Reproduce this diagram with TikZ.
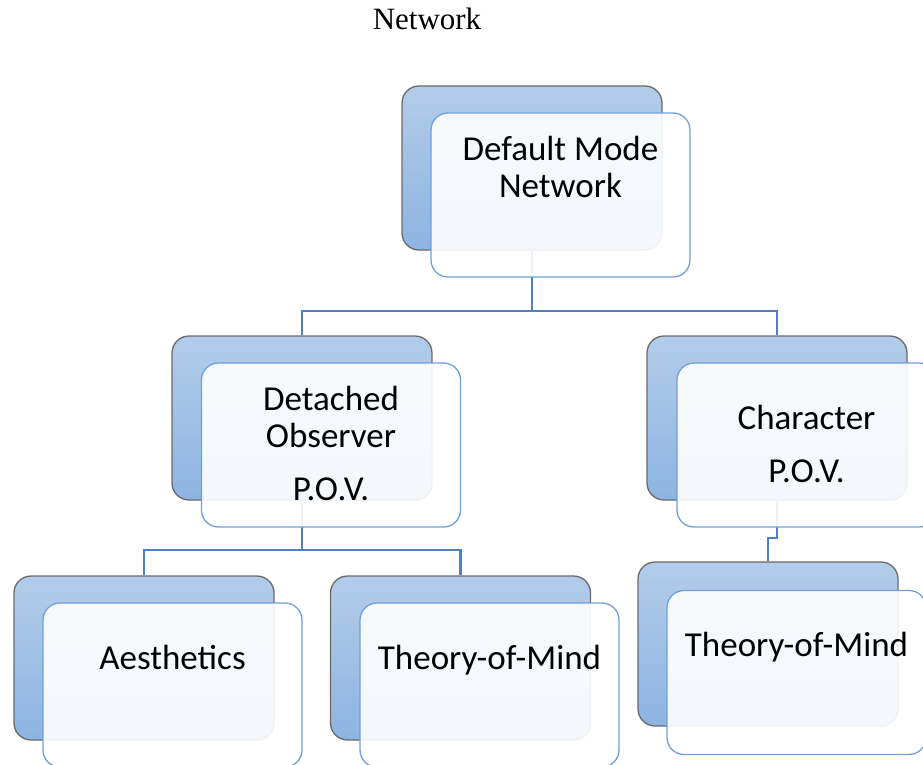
\documentclass[tikz,border=0pt]{standalone}
\usepackage{fontspec}
\setmainfont{Liberation Serif}
\newfontfamily\boxfont{Carlito}
\usepackage{tikz}
\usepackage{xcolor}
\usetikzlibrary{positioning, calc}

\definecolor{backtop}{HTML}{B3CCE9}
\definecolor{backbot}{HTML}{8DB4E2}
\definecolor{backedge}{HTML}{6A6A6A}
\definecolor{frontedge}{HTML}{6FA0D8}
\definecolor{linkblue}{HTML}{4F81BD}

\begin{document}
\begin{tikzpicture}[x=1pt, y=-1pt,
  backbox/.style={draw=backedge, line width=1.3pt, rounded corners=17pt,
    top color=backtop, bottom color=backbot,
    minimum width=260pt, minimum height=164pt, inner sep=0pt},
  frontbox/.style={draw=frontedge, line width=1.3pt, rounded corners=17pt,
    fill=white, fill opacity=0.9,
    minimum width=259pt, minimum height=164pt, inner sep=0pt},
  boxtext/.style={font=\boxfont\fontsize{35}{37}\selectfont, align=center, anchor=base, inner sep=0pt},
  link/.style={draw=linkblue, line width=2.8pt}]
\useasboundingbox (0,0) rectangle (923,765);
\clip (0,0) rectangle (923,765);

% Title
\node[font=\fontsize{31}{36}\selectfont, anchor=base, inner sep=0pt] (title) at (427,30) {Network};

% Back boxes
\node[backbox] (dmnb) at (532,168) {};
\node[backbox] (dobb) at (302,418) {};
\node[backbox] (cpovb) at (777,418) {};
\node[backbox] (aesb) at (144,658) {};
\node[backbox] (tommb) at (460.5,658) {};
\node[backbox] (tomrb) at (768,644) {};

% Connectors
\coordinate (bus1) at (0,311);
\coordinate (bus2) at (0,550);
\coordinate (jog) at (0,538);
\draw[link] (dmnb.south) -- (dmnb.south |- bus1) -| (dobb.north);
\draw[link] (dmnb.south |- bus1) -| (cpovb.north);
\draw[link] (dobb.south) -- (dobb.south |- bus2) -| (aesb.north);
\draw[link] (dobb.south |- bus2) -| (tommb.north);
\draw[link] (cpovb.south) -- (cpovb.south |- jog) -| (tomrb.north);

% Front boxes
\node[frontbox] (dmnf) at (560.5,195) {};
\node[frontbox] (dobf) at (331,445) {};
\node[frontbox] (cpovf) at (806.5,445) {};
\node[frontbox] (aesf) at (172.5,685) {};
\node[frontbox] (tommf) at (489.5,685) {};
\node[frontbox] (tomrf) at (796.5,672.5) {};

% Labels (base = last line)
\node[boxtext] (dmnt) at (560.5,197) {Default Mode\\Network};
\node[boxtext] (dobt) at (331,500) {Detached\\Observer\\[16pt]P.O.V.};
\node[boxtext] (cpovt) at (806.5,482) {Character\\[16pt]P.O.V.};
\node[boxtext] (aest) at (172.5,669) {Aesthetics};
\node[boxtext] (tommt) at (489.5,669) {Theory-of-Mind};
\node[boxtext] (tomrt) at (796.5,656) {Theory-of-Mind};
\end{tikzpicture}
\end{document}
